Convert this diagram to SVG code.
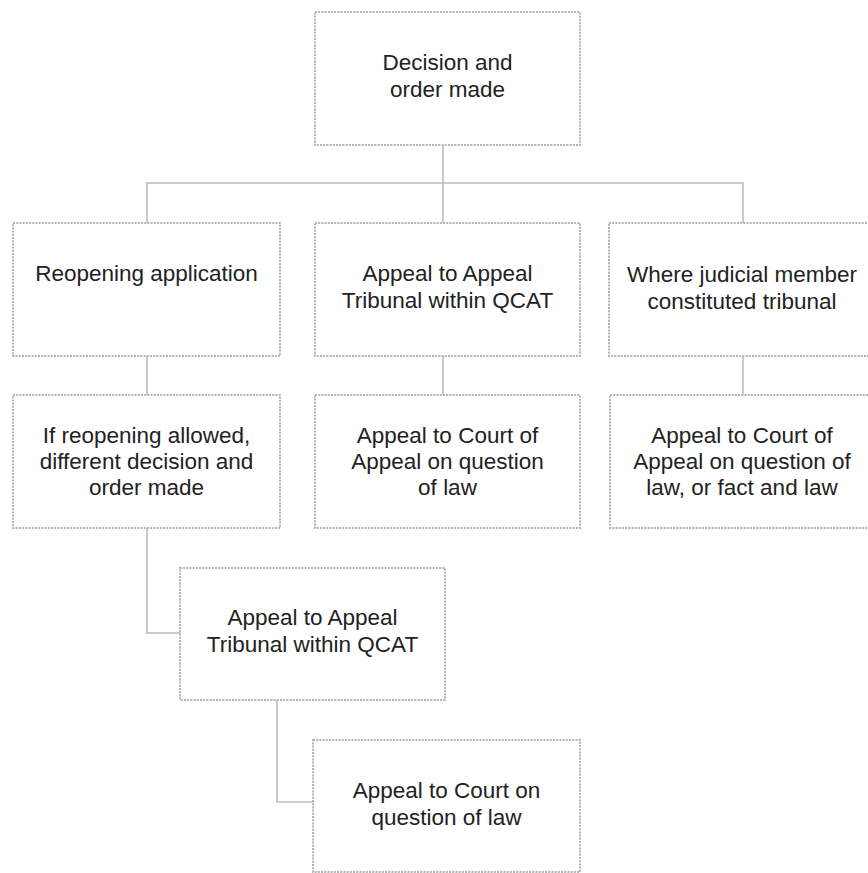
<svg xmlns="http://www.w3.org/2000/svg" width="868" height="873" viewBox="0 0 868 873">
<style>
.box{fill:#fff;stroke:#b4b4b4;stroke-width:2;stroke-dasharray:2 1.2}
.lbl{font-family:"Liberation Sans",Arial,sans-serif;font-size:22.5px;fill:#222;text-anchor:middle}
.conn{fill:none;stroke:#bdbdbd;stroke-width:1.6}
</style>
<rect width="868" height="873" fill="#fff"/>
<g id="connectors">
<path class="conn" d="M443,145 V223"/>
<path class="conn" d="M147,223 V183 H743 V223"/>
<path class="conn" d="M147,356 V395"/>
<path class="conn" d="M443,356 V395"/>
<path class="conn" d="M743,356 V395"/>
<path class="conn" d="M147,528 V633 H180"/>
<path class="conn" d="M277,700 V802 H313"/>
</g>
<g id="decision">
<rect class="box" x="315" y="12" width="265" height="133"/>
<text class="lbl" x="447.5" y="70">Decision and</text>
<text class="lbl" x="447.5" y="97">order made</text>
</g>
<g id="reopening">
<rect class="box" x="13" y="223" width="267" height="133"/>
<text class="lbl" x="146.5" y="281">Reopening application</text>
</g>
<g id="appealTribunal1">
<rect class="box" x="315" y="223" width="265" height="133"/>
<text class="lbl" x="447.5" y="281">Appeal to Appeal</text>
<text class="lbl" x="447.5" y="308">Tribunal within QCAT</text>
</g>
<g id="judicial">
<rect class="box" x="609" y="223" width="270" height="133"/>
<text class="lbl" x="742" y="282">Where judicial member</text>
<text class="lbl" x="742" y="309">constituted tribunal</text>
</g>
<g id="reopenAllowed">
<rect class="box" x="13" y="395" width="267" height="133"/>
<text class="lbl" x="146.5" y="443">If reopening allowed,</text>
<text class="lbl" x="146.5" y="469">different decision and</text>
<text class="lbl" x="146.5" y="495">order made</text>
</g>
<g id="courtAppeal1">
<rect class="box" x="315" y="395" width="265" height="133"/>
<text class="lbl" x="447.5" y="443">Appeal to Court of</text>
<text class="lbl" x="447.5" y="469">Appeal on question</text>
<text class="lbl" x="447.5" y="495">of law</text>
</g>
<g id="courtAppeal2">
<rect class="box" x="610" y="395" width="270" height="133"/>
<text class="lbl" x="742" y="443">Appeal to Court of</text>
<text class="lbl" x="742" y="469">Appeal on question of</text>
<text class="lbl" x="742" y="495">law, or fact and law</text>
</g>
<g id="appealTribunal2">
<rect class="box" x="180" y="568" width="265" height="132"/>
<text class="lbl" x="312.5" y="625">Appeal to Appeal</text>
<text class="lbl" x="312.5" y="652">Tribunal within QCAT</text>
</g>
<g id="courtLaw">
<rect class="box" x="313" y="740" width="267" height="132"/>
<text class="lbl" x="446.5" y="798">Appeal to Court on</text>
<text class="lbl" x="446.5" y="825">question of law</text>
</g>
</svg>
